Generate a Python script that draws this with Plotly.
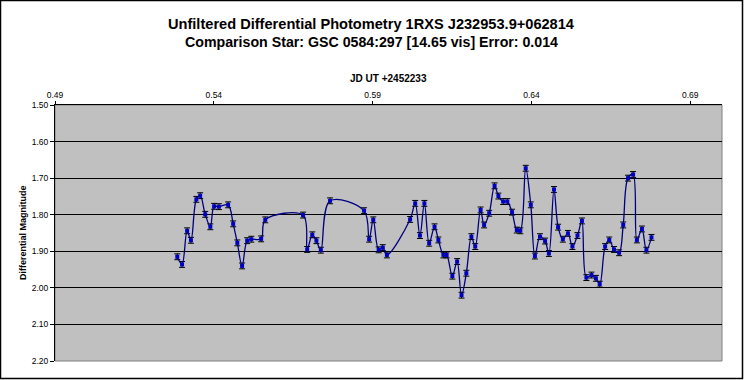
import plotly.graph_objects as go

# ---- data ----
jd = [0.5285, 0.5300, 0.5316, 0.5328, 0.5345, 0.5357, 0.5373, 0.5389, 0.5401, 0.5416,
      0.5445, 0.5461, 0.5474, 0.5489, 0.5505, 0.5518, 0.5549, 0.5562, 0.5681, 0.5694,
      0.5710, 0.5723, 0.5737, 0.5766, 0.5873, 0.5889, 0.5902, 0.5919, 0.5932, 0.5945,
      0.6018, 0.6034, 0.6049, 0.6063, 0.6078, 0.6095, 0.6107, 0.6123, 0.6133, 0.6151,
      0.6166, 0.6180, 0.6195, 0.6211, 0.6223, 0.6240, 0.6251, 0.6267, 0.6284, 0.6296,
      0.6311, 0.6324, 0.6339, 0.6354, 0.6365, 0.6382, 0.6398, 0.6411, 0.6427, 0.6443,
      0.6455, 0.6471, 0.6484, 0.6499, 0.6515, 0.6529, 0.6545, 0.6559, 0.6573, 0.6589,
      0.6603, 0.6615, 0.6632, 0.6645, 0.6660, 0.6676, 0.6689, 0.6704, 0.6720, 0.6732,
      0.6748, 0.6762, 0.6778]
mag = [1.915, 1.936, 1.844, 1.870, 1.758, 1.748, 1.799, 1.833, 1.777, 1.778,
       1.773, 1.825, 1.877, 1.940, 1.871, 1.867, 1.866, 1.814, 1.801, 1.895,
       1.855, 1.871, 1.897, 1.762, 1.789, 1.867, 1.814, 1.896, 1.890, 1.910,
       1.813, 1.769, 1.857, 1.769, 1.878, 1.833, 1.869, 1.910, 1.910, 1.968,
       1.928, 2.020, 1.960, 1.860, 1.887, 1.787, 1.828, 1.796, 1.721, 1.749,
       1.764, 1.764, 1.793, 1.842, 1.844, 1.673, 1.773, 1.913, 1.860, 1.872,
       1.906, 1.731, 1.834, 1.867, 1.851, 1.887, 1.857, 1.817, 1.972, 1.965,
       1.974, 1.990, 1.887, 1.869, 1.895, 1.904, 1.828, 1.700, 1.690, 1.869,
       1.839, 1.897, 1.862]
err = [0.008] * len(jd)

title1 = "Unfiltered Differential Photometry 1RXS J232953.9+062814"
title2 = "Comparison Star: GSC 0584:297 [14.65 vis] Error: 0.014"
x_title = "JD UT +2452233"
y_title = "Differential Magnitude"
x_range = [0.49, 0.70]
y_range = [2.20, 1.50]

# ---- layout geometry (pixels) ----
W, H = 744, 380
L, R, T, B = 55, 22, 105, 19
PW, PH = W - L - R, H - T - B


def px_x(p):
    return (p - L) / PW


def px_y(p):
    return (H - B - p) / PH


FONT = "Liberation Sans, Arial, sans-serif"

fig = go.Figure()
fig.add_trace(go.Scatter(
    x=jd, y=mag,
    mode="lines+markers",
    line=dict(color="#000080", width=1.3, shape="spline", smoothing=1.0),
    marker=dict(symbol="square", size=4, color="#0000C0"),
    error_y=dict(type="data", array=err, visible=True, color="black",
                 thickness=1, width=3),
    hoverinfo="x+y",
))

fig.update_layout(
    width=W, height=H,
    margin=dict(l=L, r=R, t=T, b=B, pad=0),
    paper_bgcolor="white",
    plot_bgcolor="#C0C0C0",
    showlegend=False,
    font=dict(family=FONT, color="black", size=8),
    xaxis=dict(
        side="top", range=x_range, tick0=0.49, dtick=0.05, tickformat=".2f",
        showgrid=False, zeroline=False, showline=True, linecolor="black",
        linewidth=1, ticks="outside", ticklen=3, tickcolor="black",
        tickfont=dict(family=FONT, size=8.5, color="black"), automargin=False,
    ),
    yaxis=dict(
        range=y_range, tick0=1.5, dtick=0.1, tickformat=".2f",
        showgrid=True, gridcolor="black", gridwidth=1, zeroline=False,
        showline=True, linecolor="black", linewidth=1,
        ticks="outside", ticklen=4, tickcolor="black",
        tickfont=dict(family=FONT, size=8.5, color="black"), automargin=False,
    ),
    shapes=[
        # plot area border (grey, under axis lines)
        dict(type="rect", xref="paper", yref="paper", x0=0, x1=1, y0=0, y1=1,
             line=dict(color="#808080", width=1), layer="below"),
        # outer chart frame
        dict(type="rect", xref="paper", yref="paper",
             x0=px_x(0.5), x1=px_x(W - 1.5), y0=px_y(H - 1.5), y1=px_y(0.5),
             line=dict(color="black", width=1.5)),
    ],
    annotations=[
        dict(text="<b>" + title1 + "</b>", xref="paper", yref="paper",
             x=px_x(371), y=px_y(23.5), xanchor="center", yanchor="middle",
             showarrow=False, font=dict(family=FONT, size=14.6)),
        dict(text="<b>" + title2 + "</b>", xref="paper", yref="paper",
             x=px_x(371), y=px_y(42), xanchor="center", yanchor="middle",
             showarrow=False, font=dict(family=FONT, size=14.2)),
        dict(text="<b>" + x_title + "</b>", xref="paper", yref="paper",
             x=px_x(388), y=px_y(78), xanchor="center", yanchor="middle",
             showarrow=False, font=dict(family=FONT, size=10)),
        dict(text="<b>" + y_title + "</b>", xref="paper", yref="paper",
             x=px_x(23), y=0.5, xanchor="center", yanchor="middle",
             textangle=-90, showarrow=False, font=dict(family=FONT, size=9)),
    ],
)

fig.write_html(
    "out.html",
    config={"displayModeBar": False},
    post_script="document.body.style.margin='0';document.body.style.overflow='hidden';",
)
